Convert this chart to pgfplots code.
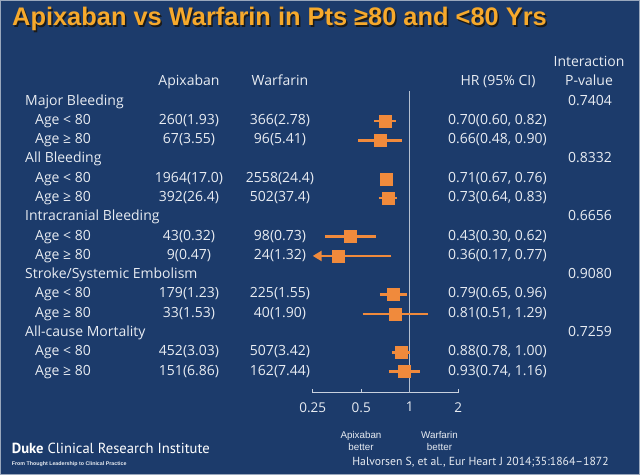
\documentclass[border=0pt]{standalone}
\usepackage{pgfplots}
\pgfplotsset{compat=1.18}
\usepackage{pgfplotstable}
\usetikzlibrary{arrows.meta}
\usepackage{fontspec}
\setmainfont{Open Sans}
\newfontfamily\arial{Liberation Sans}
\newfontfamily\ptsans{PT Sans}
\definecolor{bg}{HTML}{1C3B6B}
\definecolor{org}{HTML}{F08A3C}
\definecolor{txt}{HTML}{E8ECF2}
\definecolor{ttl}{HTML}{F6A92C}
\definecolor{shd}{HTML}{1A1A1A}

\pgfplotstableread{
row hr lo hi
1 0.70 0.60 0.82
2 0.66 0.48 0.90
4 0.71 0.67 0.76
5 0.73 0.64 0.83
7 0.43 0.30 0.62
8 0.36 0.17 0.77
10 0.79 0.65 0.96
11 0.81 0.51 1.29
13 0.88 0.78 1.00
14 0.93 0.74 1.16
}\hrtable

\newcommand{\body}{\fontsize{14}{15}\selectfont}
\newcommand{\PP}[2]{(#1pt,-#2pt)}

\begin{document}
\begin{tikzpicture}
\fill[bg] (0pt,0pt) rectangle (640pt,-475pt);
\draw[white!55!bg, line width=1pt] (0.5pt,-0.5pt) rectangle (639.5pt,-474.5pt);
% title
\node[anchor=west, inner sep=0pt, font=\arial\bfseries\fontsize{25.4}{27}\selectfont, text=shd] at \PP{13.5}{20.5} {Apixaban vs Warfarin in Pts ≥80 and <80 Yrs};
\node[anchor=west, inner sep=0pt, font=\arial\bfseries\fontsize{25.4}{27}\selectfont, text=ttl] at \PP{12}{19} {Apixaban vs Warfarin in Pts ≥80 and <80 Yrs};
% headers
\begin{scope}[every node/.style={font=\body, text=txt, inner sep=0pt, text height=1.5ex, text depth=0.25ex}]
\node at \PP{189}{81.7} {Apixaban};
\node at \PP{280}{81.7} {Warfarin};
\node at \PP{498}{81.7} {HR (95\% CI)};
\node at \PP{589}{63.3} {Interaction};
\node at \PP{589}{82.3} {P-value};
% section labels
\foreach \r/\t/\p in {0/{Major Bleeding}/0.7404, 3/{All Bleeding}/0.8332, 6/{Intracranial Bleeding}/0.6656, 9/{Stroke/Systemic Embolism}/0.9080, 12/{All-cause Mortality}/0.7259}{
  \pgfmathsetmacro{\yy}{-(101.7+19.29*\r)}
  \node[anchor=west] at (25pt,\yy pt) {\t};
  \node at (590pt,\yy pt) {\p};
}
% rows
\foreach \r/\a/\w/\h/\g in {
1/260(1.93)/366(2.78)/{0.70(0.60, 0.82)}/<,
2/67(3.55)/96(5.41)/{0.66(0.48, 0.90)}/≥,
4/1964(17.0)/2558(24.4)/{0.71(0.67, 0.76)}/<,
5/392(26.4)/502(37.4)/{0.73(0.64, 0.83)}/≥,
7/43(0.32)/98(0.73)/{0.43(0.30, 0.62)}/<,
8/9(0.47)/24(1.32)/{0.36(0.17, 0.77)}/≥,
10/179(1.23)/225(1.55)/{0.79(0.65, 0.96)}/<,
11/33(1.53)/40(1.90)/{0.81(0.51, 1.29)}/≥,
13/452(3.03)/507(3.42)/{0.88(0.78, 1.00)}/<,
14/151(6.86)/162(7.44)/{0.93(0.74, 1.16)}/≥}{
  \pgfmathsetmacro{\yy}{-(101.7+19.29*\r)}
  \node[anchor=west] at (35pt,\yy pt) {Age \g\ 80};
  \node at (189pt,\yy pt) {\a};
  \node at (280pt,\yy pt) {\w};
  \node[anchor=west] at (448pt,\yy pt) {\h};
}
\end{scope}
% bottom texts
\node[font=\arial\fontsize{9.8}{11.5}\selectfont, text=txt, align=center] at \PP{361}{441} {Apixaban\\better};
\node[font=\arial\fontsize{9.8}{11.5}\selectfont, text=txt, align=center] at \PP{439.5}{441} {Warfarin\\better};
\node[font=\ptsans\fontsize{11.7}{13}\selectfont, text=txt] at \PP{480.5}{461.7} {Halvorsen S, et al., Eur Heart J 2014;35:1864–1872};
\node[anchor=west, inner sep=0pt, font=\ptsans\fontsize{14.6}{16}\selectfont, text=white] at \PP{11.7}{448} {\textbf{Duke} Clinical Research Institute};
\node[anchor=west, inner sep=0pt, font=\arial\bfseries\fontsize{5.3}{6}\selectfont, text=txt] at \PP{11.7}{464} {From Thought Leadership to Clinical Practice};
% forest plot
\begin{axis}[at={(312.7pt,-392.7pt)}, anchor=south west,
  scale only axis, width=145.6pt, height=301.7pt,
  xmode=log, log basis x=2, xmin=0.25, xmax=2,
  ymin=-0.55, ymax=15.09, y dir=reverse,
  axis x line*=bottom, axis y line=none,
  xtick={0.25,0.5,1,2}, xticklabels={0.25,0.5,1,2},
  tick align=inside, major tick length=4pt,
  tick style={txt!85!bg, line width=1pt},
  x axis line style={txt!85!bg, line width=1pt},
  xticklabel style={font=\fontsize{13.5}{14}\selectfont, text=txt, yshift=-6pt},
  /pgf/number format/assume math mode=true,
  clip=false]
\addplot[txt!75!bg, line width=0.9pt] coordinates {(1,-0.55) (1,15.09)};
\addplot[org, line width=2.6pt] coordinates {(0.60,1) (0.82,1)};
\addplot[org, line width=2.6pt] coordinates {(0.48,2) (0.90,2)};
\addplot[org, line width=2.6pt] coordinates {(0.67,4) (0.76,4)};
\addplot[org, line width=2.6pt] coordinates {(0.64,5) (0.83,5)};
\addplot[org, line width=2.6pt] coordinates {(0.30,7) (0.62,7)};
\addplot[org, line width=2.6pt, -{Triangle[length=9pt,width=10pt]}] coordinates {(0.77,8) (0.25,8)};
\addplot[org, line width=2.6pt] coordinates {(0.65,10) (0.96,10)};
\addplot[org, line width=2.6pt] coordinates {(0.51,11) (1.29,11)};
\addplot[org, line width=2.6pt] coordinates {(0.78,13) (1.00,13)};
\addplot[org, line width=2.6pt] coordinates {(0.74,14) (1.16,14)};
\addplot[only marks, mark=square*, mark size=6pt, org, mark options={draw=org, fill=org}] table[x=hr, y=row] {\hrtable};
\end{axis}
\end{tikzpicture}
\end{document}
